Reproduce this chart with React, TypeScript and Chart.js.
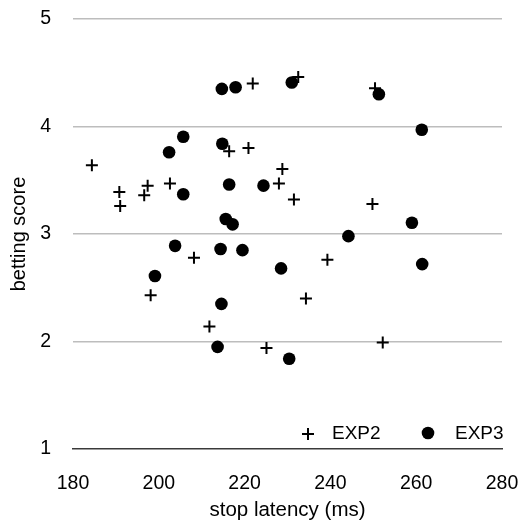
import React, { useEffect, useRef } from "react";
import { Chart, registerables } from "chart.js";

Chart.register(...registerables);

const exp2Latency = [184.4, 190.8, 191.0, 196.6, 197.4, 202.6, 216.4, 220.9, 221.9, 232.5, 250.4, 228.8, 228.0, 231.5, 249.8, 208.2, 198.1, 211.8, 239.3, 234.3, 225.1, 252.2];
const exp2Score = [3.64, 3.39, 3.26, 3.36, 3.45, 3.47, 3.77, 3.8, 4.4, 4.46, 4.355, 3.605, 3.47, 3.32, 3.28, 2.78, 2.43, 2.14, 2.76, 2.4, 1.94, 1.99];
const exp3Latency = [214.7, 217.9, 205.7, 202.4, 214.8, 216.4, 205.7, 231.0, 251.3, 261.3, 224.4, 215.6, 217.2, 203.8, 214.4, 219.5, 199.1, 214.6, 213.7, 244.2, 259.0, 228.5, 261.4, 230.4];
const exp3Score = [4.35, 4.365, 3.905, 3.76, 3.84, 3.46, 3.37, 4.41, 4.3, 3.97, 3.45, 3.14, 3.09, 2.89, 2.86, 2.85, 2.61, 2.35, 1.95, 2.98, 3.105, 2.68, 2.72, 1.84];
const seriesNames = ["EXP2", "EXP3"];
const xTitle = "stop latency (ms)";
const yTitle = "betting score";

const FONT = "'Liberation Sans', Arial, Helvetica, sans-serif";
const INK = "#000";

const legendPlugin = {
  id: "insideLegend",
  afterDraw(chart: any) {
    const { ctx, chartArea } = chart;
    const y = chartArea.bottom - 15;
    ctx.save();
    ctx.fillStyle = INK;
    ctx.strokeStyle = INK;
    ctx.font = `19px ${FONT}`;
    ctx.textBaseline = "middle";
    ctx.textAlign = "left";
    const cx = chartArea.right - 194;
    ctx.lineWidth = 2;
    ctx.beginPath();
    ctx.moveTo(cx - 6, y);
    ctx.lineTo(cx + 6, y);
    ctx.moveTo(cx, y - 6);
    ctx.lineTo(cx, y + 6);
    ctx.stroke();
    ctx.fillText(seriesNames[0], cx + 24, y);
    const dx = chartArea.right - 74;
    ctx.beginPath();
    ctx.arc(dx, y - 1, 6.3, 0, Math.PI * 2);
    ctx.fill();
    ctx.fillText(seriesNames[1], dx + 27, y);
    ctx.restore();
  },
};

const zeroPad = (s: any) => {
  s.paddingLeft = 0;
  s.paddingRight = 0;
  s.paddingTop = 0;
  s.paddingBottom = 0;
};

export default function App() {
  const ref = useRef<HTMLCanvasElement | null>(null);
  useEffect(() => {
    document.body.style.margin = "0";
    const canvas = ref.current!;
    const chart = new Chart(canvas, {
      type: "scatter",
      data: {
        datasets: [
          {
            label: seriesNames[0],
            data: exp2Latency.map((x, i) => ({ x, y: exp2Score[i] })),
            pointStyle: "cross",
            pointRadius: 6,
            borderWidth: 2,
            borderColor: INK,
            backgroundColor: INK,
          },
          {
            label: seriesNames[1],
            data: exp3Latency.map((x, i) => ({ x, y: exp3Score[i] })),
            pointStyle: "circle",
            pointRadius: 6.3,
            borderWidth: 0,
            borderColor: INK,
            backgroundColor: INK,
          },
        ],
      },
      options: {
        responsive: false,
        animation: false,
        devicePixelRatio: 1,
        layout: { padding: { left: 0, right: 19, top: 19, bottom: 0 } },
        plugins: { legend: { display: false }, tooltip: { enabled: false } },
        scales: {
          x: {
            type: "linear",
            min: 180,
            max: 280,
            afterFit: (s: any) => { s.height = 72; zeroPad(s); },
            ticks: { stepSize: 20, color: INK, font: { family: FONT, size: 19.5 }, padding: 23, maxRotation: 0 },
            grid: { display: false, drawTicks: false },
            border: { display: true, color: "#3a3a3a", width: 1.5 },
            title: { display: true, text: xTitle, color: INK, font: { family: FONT, size: 20.5 }, padding: { top: 4, bottom: -2 } },
          },
          y: {
            type: "linear",
            min: 1,
            max: 5,
            afterFit: (s: any) => { s.width = 73; zeroPad(s); },
            ticks: { stepSize: 1, color: INK, font: { family: FONT, size: 19.5 }, padding: 22 },
            grid: {
              drawTicks: false,
              color: (c: any) => (c.tick && c.tick.value === 1 ? "rgba(0,0,0,0)" : "#bdbdbd"),
              lineWidth: 1.5,
            },
            border: { display: false },
            title: { display: true, text: yTitle, color: INK, font: { family: FONT, size: 20 }, padding: { top: 7, bottom: 0 } },
          },
        },
      },
      plugins: [legendPlugin],
    });
    return () => chart.destroy();
  }, []);
  return (
    <div style={{ position: "absolute", left: 0, top: 0, width: 521, height: 521, background: "#fff" }}>
      <canvas ref={ref} width={521} height={521} />
    </div>
  );
}
